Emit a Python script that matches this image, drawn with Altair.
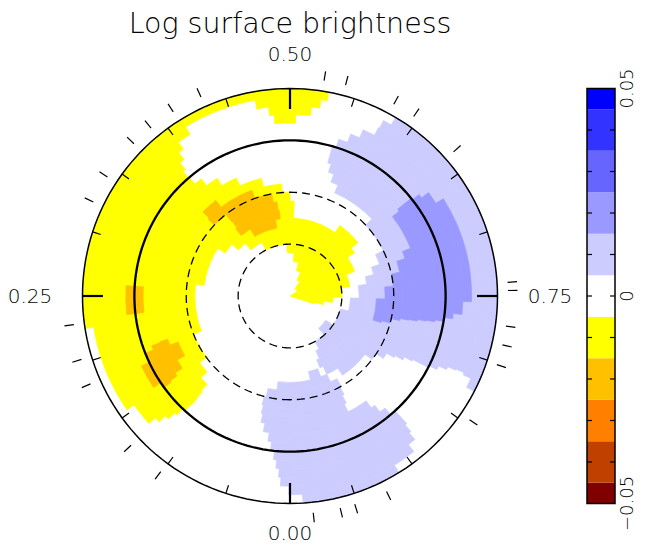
import math
import altair as alt
import pandas as pd

# ---------------- data ----------------
# Map runs: (co-latitude of ring centre [deg], phase start, phase end).
# Rings are 5 deg wide; co-latitude 0 = visible pole, 120 = rim (latitude -30).
YELLOW_RUNS = [
    (2.5, 0.66, 0.80), (7.5, 0.595, 0.80), (12.5, 0.567, 0.80), (17.5, 0.54, 0.79),
    (22.5, 0.515, 0.774), (27.5, 0.49, 0.754), (32.5, 0.423, 0.725), (37.5, 0.388, 0.692),
    (42.5, 0.366, 0.656), (47.5, 0.343, 0.507), (47.5, 0.598, 0.644), (52.5, 0.27, 0.507),
    (57.5, 0.19, 0.50), (62.5, 0.149, 0.488), (67.5, 0.132, 0.462), (72.5, 0.12, 0.432),
    (77.5, 0.118, 0.412), (82.5, 0.117, 0.397), (87.5, 0.118, 0.388), (92.5, 0.121, 0.387),
    (97.5, 0.124, 0.390), (102.5, 0.128, 0.395), (102.5, 0.486, 0.505),
    (107.5, 0.133, 0.40), (107.5, 0.482, 0.518), (112.5, 0.153, 0.412), (112.5, 0.472, 0.525),
    (117.5, 0.225, 0.53),
]
ORANGE_RUNS = [
    (42.5, 0.415, 0.47), (47.5, 0.392, 0.48), (52.5, 0.395, 0.478), (57.5, 0.394, 0.472),
    (62.5, 0.37, 0.445), (67.5, 0.372, 0.395),
    (72.5, 0.168, 0.188), (77.5, 0.156, 0.196), (82.5, 0.152, 0.195), (87.5, 0.15, 0.19),
    (92.5, 0.156, 0.18), (87.5, 0.232, 0.26), (92.5, 0.232, 0.26),
]
LIGHT_BLUE_RUNS = [
    (27.5, 0.845, 0.885), (32.5, 0.79, 0.92), (37.5, 0.755, 0.93), (42.5, 0.726, 0.937),
    (47.5, 0.71, 0.93), (47.5, 0.942, 0.962), (52.5, 0.696, 0.907), (52.5, 0.93, 1.022),
    (57.5, 0.678, 0.855), (57.5, 0.918, 1.037), (62.5, 0.63, 0.844), (62.5, 0.92, 1.04),
    (67.5, 0.565, 0.835), (67.5, 0.923, 1.038), (72.5, 0.555, 0.832), (72.5, 0.926, 1.036),
    (77.5, 0.548, 0.828), (77.5, 0.90, 1.031), (82.5, 0.544, 0.826), (82.5, 0.895, 1.024),
    (87.5, 0.544, 0.826), (87.5, 0.888, 1.02), (92.5, 0.548, 0.824), (92.5, 0.882, 1.016),
    (97.5, 0.557, 0.82), (97.5, 0.882, 1.013), (102.5, 0.566, 0.817), (102.5, 0.884, 1.01),
    (107.5, 0.577, 0.816), (107.5, 0.886, 1.008), (112.5, 0.578, 0.818), (112.5, 0.893, 1.001),
    (117.5, 0.585, 0.826), (117.5, 0.912, 0.99),
]
MID_BLUE_RUNS = [
    (52.5, 0.755, 0.795), (57.5, 0.735, 0.792), (62.5, 0.716, 0.785), (67.5, 0.70, 0.782),
    (72.5, 0.69, 0.781), (77.5, 0.645, 0.779), (82.5, 0.642, 0.778), (87.5, 0.642, 0.776),
    (92.5, 0.644, 0.772), (97.5, 0.648, 0.767), (102.5, 0.66, 0.755),
]
RUN_VALUES = {"yellow": -0.01, "orange": -0.02, "light": 0.01, "mid": 0.02}

# observation phases (ticks outside the rim)
OBS_PHASES = [0.101, 0.130, 0.184, 0.203, 0.229, 0.321, 0.342, 0.373, 0.390, 0.410,
              0.433, 0.525, 0.541, 0.579, 0.596, 0.635, 0.740, 0.746, 0.772, 0.786,
              0.801, 0.846, 0.927, 0.952, 0.963, 0.983]
MAJOR_PHASES = [0.0, 0.25, 0.5, 0.75]
PHASE_LABELS = ["0.00", "0.25", "0.50", "0.75"]
MINOR_PHASES = [i * 0.05 for i in range(20) if i % 5 != 0]
LAT_DASHED = [30, 60]      # co-latitudes of dashed circles (latitude 60, 30)
LAT_SOLID = 90             # equator
RIM = 120                  # latitude -30

CBAR_EDGES = [-0.05, -0.045, -0.035, -0.025, -0.015, -0.005, 0.005, 0.015, 0.025, 0.035, 0.045, 0.05]
CBAR_COLORS = ["#800000", "#C04000", "#FF8000", "#FFC000", "#FFFF00", "#FFFFFF",
               "#CCCCFF", "#9999FF", "#6666FF", "#3333FF", "#0000FF"]
CBAR_TICKS = [-0.04, -0.03, -0.02, -0.01, 0.0, 0.01, 0.02, 0.03, 0.04]
CBAR_LABEL_VALUES = [-0.05, 0.0, 0.05]
CBAR_LABELS = ["\u22120.05", "0", "0.05"]
TITLE = "Log surface brightness"

# ---------------- layout ----------------
W, H = 630, 537
ORIGIN = 8
CX_PAGE, CY_PAGE = 290.0, 296.0
R_PX = 207.5
PXU = R_PX / 120.0             # pixels per degree of co-latitude
CXV, CYV = CX_PAGE - ORIGIN, CY_PAGE - ORIGIN
RING_HALF = 2.5
FONT = "DejaVu Sans"
FONT_WEIGHT = 200

xs = alt.Scale(domain=[(ORIGIN - CX_PAGE) / PXU, (ORIGIN + W - CX_PAGE) / PXU], nice=False, zero=False)
ys = alt.Scale(domain=[(CY_PAGE - ORIGIN - H) / PXU, (CY_PAGE - ORIGIN) / PXU], nice=False, zero=False)
rs = alt.Scale(type="linear", domain=[0, 120], range=[0, R_PX], zero=True, nice=False)
ts = alt.Scale(type="linear", domain=[0, 1], range=[math.pi, 3 * math.pi], nice=False, zero=False)
cs = alt.Scale(type="threshold", domain=CBAR_EDGES[1:-1], range=CBAR_COLORS)


def runs_df(runs, value):
    return pd.DataFrame([{"c0": c - RING_HALF, "c1": c + RING_HALF, "p0": a, "p1": b, "v": value}
                         for c, a, b in runs])


def arc_layer(df):
    return alt.Chart(df).mark_arc(strokeWidth=0.7).encode(
        x=alt.value(CXV), y=alt.value(CYV),
        theta=alt.Theta("p0:Q", scale=ts, stack=False), theta2="p1:Q",
        radius=alt.Radius("c1:Q", scale=rs), radius2="c0:Q",
        fill=alt.Fill("v:Q", scale=cs, legend=None),
        stroke=alt.Stroke("v:Q", scale=cs, legend=None),
    )


CIRCLE_STEPS = pd.DataFrame({"i": list(range(0, 361, 2))})


def circle_layer(colat, width, dash=None):
    kw = dict(color="black", strokeWidth=width)
    if dash:
        kw["strokeDash"] = dash
    return alt.Chart(CIRCLE_STEPS).transform_calculate(
        cx=f"-{colat}*sin(2*PI*datum.i/360)", cy=f"-{colat}*cos(2*PI*datum.i/360)"
    ).mark_line(**kw).encode(
        x=alt.X("cx:Q", scale=xs, axis=None), y=alt.Y("cy:Q", scale=ys, axis=None),
        order="i:Q",
    )


def tick_layer(phases, r0, r1, width):
    df = pd.DataFrame({"p": phases, "r0": r0, "r1": r1})
    return alt.Chart(df).transform_calculate(
        xa="-datum.r0*sin(2*PI*datum.p)", ya="-datum.r0*cos(2*PI*datum.p)",
        xb="-datum.r1*sin(2*PI*datum.p)", yb="-datum.r1*cos(2*PI*datum.p)",
    ).mark_rule(color="black", strokeWidth=width).encode(
        x=alt.X("xa:Q", scale=xs, axis=None), y=alt.Y("ya:Q", scale=ys, axis=None),
        x2="xb:Q", y2="yb:Q",
    )


layers = [
    arc_layer(runs_df(YELLOW_RUNS, RUN_VALUES["yellow"])),
    arc_layer(runs_df(LIGHT_BLUE_RUNS, RUN_VALUES["light"])),
    arc_layer(runs_df(ORANGE_RUNS, RUN_VALUES["orange"])),
    arc_layer(runs_df(MID_BLUE_RUNS, RUN_VALUES["mid"])),
    circle_layer(LAT_DASHED[0], 1.3, [8, 5]),
    circle_layer(LAT_DASHED[1], 1.3, [8, 5]),
    circle_layer(LAT_SOLID, 2.3),
    circle_layer(RIM, 1.5),
    tick_layer(MINOR_PHASES, 120, 120 - 8.5 / PXU, 1.2),
    tick_layer(MAJOR_PHASES, 120, 120 - 20.5 / PXU, 2.2),
    tick_layer(OBS_PHASES, 218 / PXU, 227.5 / PXU, 1.2),
]

# phase labels
LABEL_RX, LABEL_RY_TOP, LABEL_RY_BOTTOM = 150.4, 140.2, 137.0
layers.append(
    alt.Chart(pd.DataFrame({"p": MAJOR_PHASES, "t": PHASE_LABELS})).transform_calculate(
        lx=f"-{LABEL_RX}*sin(2*PI*datum.p)",
        ly=f"cos(2*PI*datum.p) < 0 ? -{LABEL_RY_TOP}*cos(2*PI*datum.p) : -{LABEL_RY_BOTTOM}*cos(2*PI*datum.p)",
    ).mark_text(font=FONT, fontWeight=FONT_WEIGHT, fontSize=20, align="center", baseline="middle",
                dy=1, color="black").encode(
        x=alt.X("lx:Q", scale=xs, axis=None), y=alt.Y("ly:Q", scale=ys, axis=None), text="t:N",
    )
)

# title
layers.append(
    alt.Chart(pd.DataFrame({"t": [TITLE]})).mark_text(
        font=FONT, fontWeight=FONT_WEIGHT, fontSize=28.5, align="center", baseline="alphabetic", color="black"
    ).encode(x=alt.value(CX_PAGE - ORIGIN), y=alt.value(33.3 - ORIGIN), text="t:N")
)

# colour bar
CB_SCALE = 120 / 0.05
CB_X0, CB_X1 = 587 - ORIGIN, 615 - ORIGIN
cb_df = pd.DataFrame({"lo": CBAR_EDGES[:-1], "hi": CBAR_EDGES[1:]})
cb_df["mid"] = (cb_df["lo"] + cb_df["hi"]) / 2
layers.append(
    alt.Chart(cb_df).transform_calculate(
        ylo=f"datum.lo*{CB_SCALE}", yhi=f"datum.hi*{CB_SCALE}"
    ).mark_rect().encode(
        x=alt.value(CB_X0), x2=alt.value(CB_X1),
        y=alt.Y("ylo:Q", scale=ys, axis=None), y2="yhi:Q",
        fill=alt.Fill("mid:Q", scale=cs, legend=None),
    )
)
layers.append(
    alt.Chart(pd.DataFrame({"lo": [CBAR_EDGES[0]], "hi": [CBAR_EDGES[-1]]})).transform_calculate(
        ylo=f"datum.lo*{CB_SCALE}", yhi=f"datum.hi*{CB_SCALE}"
    ).mark_rect(fillOpacity=0, stroke="black", strokeWidth=1.5).encode(
        x=alt.value(CB_X0), x2=alt.value(CB_X1),
        y=alt.Y("ylo:Q", scale=ys, axis=None), y2="yhi:Q",
    )
)
tick_df = pd.DataFrame({"v": CBAR_TICKS})
for xa, xb in [(CB_X0, CB_X0 + 5), (CB_X1 - 5, CB_X1)]:
    layers.append(
        alt.Chart(tick_df).transform_calculate(yv=f"datum.v*{CB_SCALE}").mark_rule(
            color="black", strokeWidth=1.2
        ).encode(x=alt.value(xa), x2=alt.value(xb), y=alt.Y("yv:Q", scale=ys, axis=None))
    )
layers.append(
    alt.Chart(pd.DataFrame({"v": CBAR_LABEL_VALUES, "t": CBAR_LABELS})).transform_calculate(
        yv=f"datum.v*{CB_SCALE}"
    ).mark_text(font=FONT, fontWeight=FONT_WEIGHT, fontSize=18, angle=270, align="center",
                baseline="alphabetic", color="black").encode(
        x=alt.value(633.2 - ORIGIN), y=alt.Y("yv:Q", scale=ys, axis=None), text="t:N"
    )
)

chart = alt.layer(*layers).properties(
    width=W, height=H,
    autosize=alt.AutoSizeParams(type="none"),
    padding={"left": 0, "right": 0, "top": 0, "bottom": 0},
).configure_view(stroke=None)

chart.save("out.html", embed_options={"renderer": "svg", "actions": False})
